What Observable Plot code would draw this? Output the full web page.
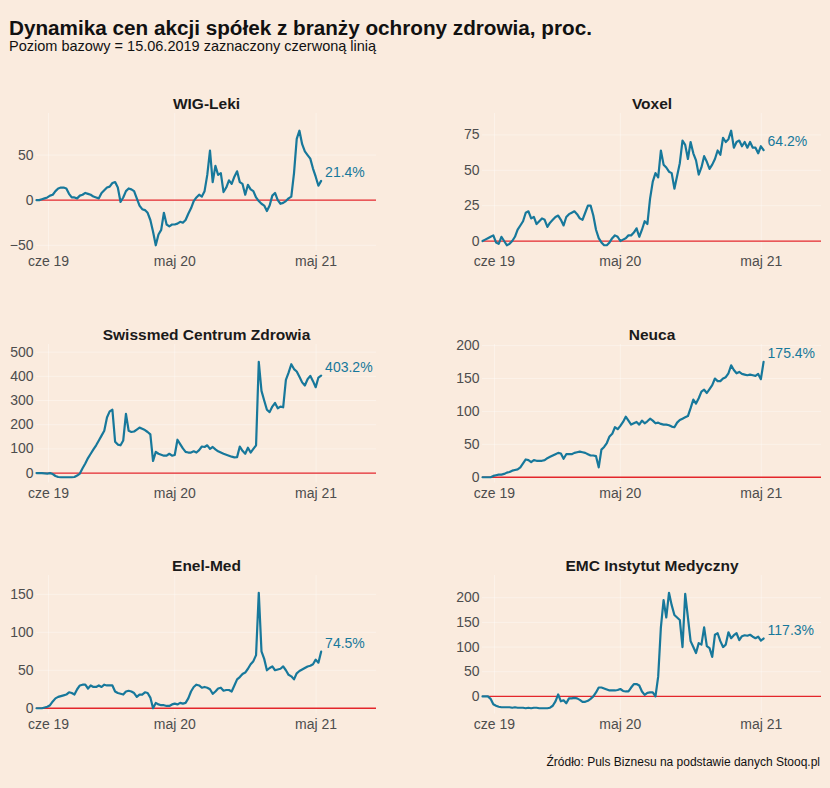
<!DOCTYPE html>
<html>
<head>
<meta charset="utf-8">
<script src="https://cdn.jsdelivr.net/npm/d3@7"></script>
<script src="https://cdn.jsdelivr.net/npm/@observablehq/plot@0.6"></script>
<style>
  html, body { margin: 0; padding: 0; background: #faebde; }
  #chart { position: relative; width: 830px; height: 788px; background: #faebde; overflow: hidden;
           font-family: "Liberation Sans", Arial, sans-serif; }
  .txt { position: absolute; white-space: nowrap; line-height: 1; }
  #title { left: 9px; top: 18.2px; font-size: 20.7px; font-weight: bold; color: #111; }
  #subtitle { left: 9px; top: 38.7px; font-size: 14.5px; color: #111; }
  #caption { right: 10px; top: 755.8px; font-size: 12px; color: #111; }
  .panel { position: absolute; }
</style>
</head>
<body>
<div id="chart">
  <div id="title" class="txt">Dynamika cen akcji spółek z branży ochrony zdrowia, proc.</div>
  <div id="subtitle" class="txt">Poziom bazowy = 15.06.2019 zaznaczony czerwoną linią</div>
  <div id="caption" class="txt">Źródło: Puls Biznesu na podstawie danych Stooq.pl</div>
</div>
<script>
// ---------- data (weekly readings from the reference, % change vs 15.06.2019) ----------
const startDate = "2019-06-15";
const stepDays = 7;
const xDomainEnd = "2021-11-09";
const tickDates = ["2019-07-16", "2020-06-06", "2021-06-06"];
const tickLabels = ["cze 19", "maj 20", "maj 21"];

const companies = ["WIG-Leki", "Voxel", "Swissmed Centrum Zdrowia", "Neuca", "Enel-Med", "EMC Instytut Medyczny"];
const endLabels = ["21.4%", "64.2%", "403.2%", "175.4%", "74.5%", "117.3%"];

const wigLeki = [0,0,1,2,3,5,6,10,13,14, 14,13,7,3,3,2,5,6,8,7, 6,4,3,2,8,11,14,15,19,20,
  14,-2,3,10,13,12,10,2,-6,-10, -11,-14,-22,-35,-50,-38,-33,-14,-27,-29, -27,-27,-26,-24,-25,-22,-15,-9,-1,3,
  6,4,10,28,55,20,38,28,30,9, 14,22,18,26,32,20,18,6,17,12, 10,3,-1,-4,-6,-12,-6,5,8,0,
  -4,-3,-1,2,4,30,68,77,62,54, 50,46,35,26,16,21.4];
const voxel = [0,1,2,3,4,-1,-2,3,0,-3, -2,0,3,8,11,14,20,21,16,17, 12,14,16,15,10,13,15,17,18,15,
  11,17,19,20,21,19,16,15,20,25, 25,18,8,2,-1,-3,-3,-1,2,4, 3,0,1,2,4,4,6,9,3,8,
  14,12,30,42,48,45,64,54,52,49, 48,37,46,55,71,68,58,70,62,57, 47,52,60,56,51,54,58,64,61,73,
  70,72,78,66,70,71,67,70,66,70, 66,66,62,67,64.2];
const swissmed = [0,0,0,-1,-2,0,-4,-12,-16,-17, -17,-17,-17,-17,-16,-10,-2,20,40,62, 80,98,115,135,155,175,230,255,262,130,
  118,115,135,245,175,170,172,180,188,183, 178,170,160,50,88,80,76,72,72,80, 72,75,138,120,102,88,85,85,90,85,
  95,110,108,115,100,108,98,90,85,80, 76,72,68,65,66,110,92,80,105,85, 100,115,460,340,300,262,252,275,290,268,
  275,272,385,415,450,430,420,398,375,362, 388,402,380,355,395,403.2];
const neuca = [0,0,0,0,2,3,4,4,5,7, 8,10,11,12,15,21,27,26,23,26, 25,25,25,26,29,31,33,35,37,36,
  28,35,35,35,37,38,39,38,37,35, 33,33,32,15,42,46,52,62,66,76, 73,78,84,92,86,80,82,84,80,86,
  82,85,89,86,82,83,81,80,80,79, 77,76,83,87,89,91,93,105,118,112, 120,130,133,128,134,140,150,146,146,150,
  152,158,170,163,158,160,157,156,155,156, 155,154,157,149,175.4];
const enelMed = [0,0,0,1,2,4,9,13,15,16, 17,18,21,20,18,25,30,31,31,26, 30,28,28,30,28,31,30,30,30,22,
  20,19,18,22,23,22,20,15,18,18, 21,20,14,0,7,5,4,4,3,3, 5,6,5,7,6,7,13,22,28,31,
  30,27,28,27,25,19,22,26,27,23, 24,24,22,30,38,41,45,47,52,58, 62,70,152,75,65,50,53,55,50,51,
  52,55,50,44,42,38,46,49,51,53, 55,56,58,64,60,74.5];
const emc = [0,0,0,-5,-16,-19,-21,-22,-22,-22, -22,-23,-22,-23,-23,-23,-24,-23,-24,-23,
  -23,-24,-24,-24,-24,-23,-19,-10,4,-10, -8,-14,-4,-4,-3,-4,-7,-11,-11,-9,
  -5,0,8,18,18,16,14,12,12,12, 13,15,11,10,10,18,25,25,22,10,
  3,7,8,8,0,40,140,195,160,210, 185,165,160,155,100,208,160,112,100,88,
  108,105,140,102,98,80,125,128,112,100, 105,130,118,124,128,114,122,124,123,125,
  121,118,121,113,117.3];

const wigTicks = [-50, 0, 50];
const voxelTicks = [0, 25, 50, 75];
const swissmedTicks = [0, 100, 200, 300, 400, 500];
const neucaTicks = [0, 50, 100, 150, 200];
const enelTicks = [0, 50, 100, 150];
const emcTicks = [0, 50, 100, 150, 200];

// ---------- layout & style ----------
const seriesList = [wigLeki, voxel, swissmed, neuca, enelMed, emc];
const tickList = [wigTicks, voxelTicks, swissmedTicks, neucaTicks, enelTicks, emcTicks];
const rowTop = [112.5, 344, 575];
const rowBottom = [250, 482.5, 713.5];
const teal = "#17789b";
const red = "#e3262b";
const MT = 30, MB = 25;

const t0 = new Date(startDate + "T00:00:00Z");
const DAY = 864e5;
const xDomain = [t0, new Date(xDomainEnd + "T00:00:00Z")];
const tickDateObjs = tickDates.map(d => new Date(d + "T00:00:00Z"));
const tickLabelMap = new Map(tickDateObjs.map((d, i) => [+d, tickLabels[i]]));

const chart = document.getElementById("chart");

seriesList.forEach((vals, k) => {
  const row = Math.floor(k / 2), col = k % 2;
  const data = vals.map((v, i) => ({date: new Date(+t0 + i * stepDays * DAY), value: v}));
  const mn = d3.min(vals), mx = d3.max(vals), r = mx - mn;
  const yDomain = [mn - 0.05 * r, mx + 0.15 * r];
  const ph = rowBottom[row] - rowTop[row];
  const ml = col === 0 ? 36 : 67;
  const mr = col === 0 ? 39 : 9;
  const last = data[data.length - 1];

  const svg = Plot.plot({
    width: 415,
    height: MT + ph + MB,
    marginTop: MT, marginBottom: MB, marginLeft: ml, marginRight: mr,
    style: {background: "transparent", fontFamily: "'Liberation Sans', Arial, sans-serif", fontSize: "14px", color: "#4d4d4d", overflow: "visible"},
    x: {type: "utc", domain: xDomain, ticks: tickDateObjs, tickFormat: d => tickLabelMap.get(+d), tickSize: 0, tickPadding: 5, label: null},
    y: {domain: yDomain, ticks: tickList[k], tickSize: 0, tickPadding: 3, label: null},
    marks: [
      Plot.gridY(tickList[k], {stroke: "white", strokeOpacity: 0.35}),
      Plot.gridX(tickDateObjs, {stroke: "white", strokeOpacity: 0.35}),
      Plot.ruleY([0], {stroke: red, strokeWidth: 1.3}),
      Plot.line(data, {x: "date", y: "value", stroke: teal, strokeWidth: 2.2, strokeLinejoin: "round"}),
      Plot.text([last], {x: "date", y: "value", text: () => endLabels[k], dx: 4, dy: -8.5, textAnchor: "start", lineAnchor: "middle", fill: teal, fontSize: 14}),
      Plot.text([companies[k]], {frameAnchor: "top", lineAnchor: "middle", dy: -9.8, text: d => d, fontWeight: "bold", fontSize: 15.5, fill: "#1a1a1a"})
    ]
  });
  svg.classList.add("panel");
  svg.style.position = "absolute";
  svg.style.left = (col === 0 ? 0 : 415) + "px";
  svg.style.top = (rowTop[row] - MT) + "px";
  chart.appendChild(svg);
});
</script>
</body>
</html>
